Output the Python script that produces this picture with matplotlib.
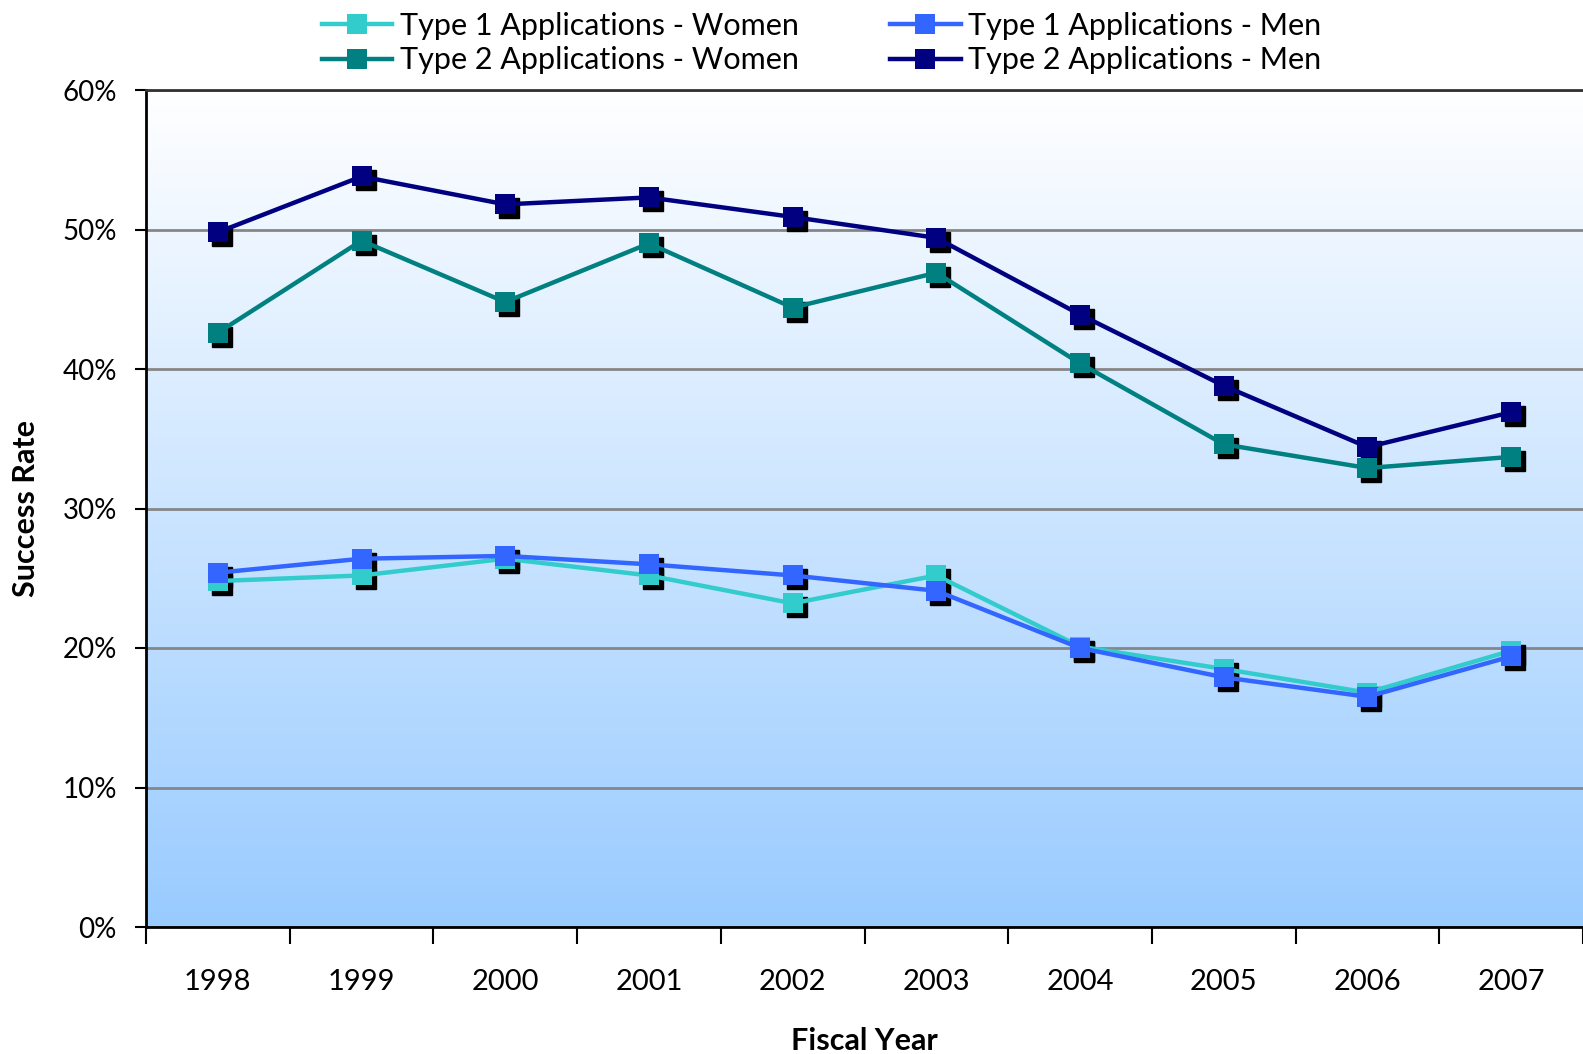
import numpy as np
import matplotlib
matplotlib.use("Agg")
import matplotlib.pyplot as plt
from matplotlib import transforms
from matplotlib.colors import LinearSegmentedColormap
from matplotlib.ticker import FixedLocator, FuncFormatter

plt.rcParams["font.family"] = ["Lato", "DejaVu Sans"]

# data (success rate, %)
years = ["1998", "1999", "2000", "2001", "2002", "2003", "2004", "2005", "2006", "2007"]
type1_women = [24.8, 25.2, 26.4, 25.2, 23.2, 25.2, 20.1, 18.5, 16.8, 19.8]
type1_men = [25.4, 26.4, 26.6, 26.0, 25.2, 24.1, 20.0, 17.9, 16.5, 19.4]
type2_women = [42.6, 49.2, 44.8, 49.0, 44.4, 46.9, 40.4, 34.6, 32.9, 33.7]
type2_men = [49.8, 53.8, 51.8, 52.3, 50.9, 49.4, 43.9, 38.8, 34.4, 36.9]

series = [
    ("Type 1 Applications - Women", type1_women, "#33CCCC"),
    ("Type 1 Applications - Men", type1_men, "#3366FF"),
    ("Type 2 Applications - Men", type2_men, "#000080"),
    ("Type 2 Applications - Women", type2_women, "#008080"),
]

fig = plt.figure(figsize=(15.83, 10.54), dpi=100)
ax = fig.add_axes([146 / 1583, 1 - 927 / 1054, 1 - 146 / 1583, (927 - 90) / 1054])

# gradient background
cmap = LinearSegmentedColormap.from_list("bg", ["#FFFFFF", "#99CBFF"])
grad = np.linspace(0, 1, 256).reshape(-1, 1)
ax.imshow(grad, cmap=cmap, extent=[0, 1, 0, 1], transform=ax.transAxes,
          aspect="auto", zorder=0)

x = np.arange(len(years))
shadow = transforms.offset_copy(ax.transData, fig=fig, x=4, y=-4, units="dots")

handles = {}
for label, vals, color in series:
    ax.plot(x, vals, linestyle="none", marker="s", markersize=15,
            color="black", transform=shadow, zorder=3)
    h, = ax.plot(x, vals, color=color, linewidth=3.2, marker="s",
                 markersize=15, markeredgewidth=0, zorder=4, label=label)
    handles[label] = h

order = ["Type 1 Applications - Women", "Type 2 Applications - Women",
         "Type 1 Applications - Men", "Type 2 Applications - Men"]
fig.legend([handles[k] for k in order], order, ncol=2, loc="upper center",
           bbox_to_anchor=(0.519, 1.015), frameon=False, fontsize=22,
           handlelength=2.3, handletextpad=0.25, columnspacing=3.0,
           labelspacing=0.22)

ax.set_xlim(-0.5, 9.5)
ax.set_ylim(0, 60)
ax.set_yticks(np.arange(0, 61, 10))
ax.yaxis.set_major_formatter(FuncFormatter(lambda v, p: f"{v:.0f}%"))
ax.grid(axis="y", color="#868686", linewidth=2, zorder=1)
ax.set_axisbelow(True)

ax.xaxis.set_major_locator(FixedLocator(np.arange(-0.5, 10, 1)))
ax.xaxis.set_major_formatter(FuncFormatter(lambda v, p: ""))
ax.xaxis.set_minor_locator(FixedLocator(x))
ax.set_xticklabels(years, minor=True)
ax.tick_params(axis="x", which="major", length=12, width=1.5, direction="out")
ax.tick_params(axis="x", which="minor", length=0, pad=30, labelsize=21)
ax.tick_params(axis="y", length=8, width=1.5, direction="out", labelsize=20, pad=13)

for s in ["left", "bottom"]:
    ax.spines[s].set_linewidth(2)
    ax.spines[s].set_color("black")
ax.spines["top"].set_linewidth(2)
ax.spines["top"].set_color("#333333")
ax.spines["right"].set_visible(False)

ax.set_xlabel("Fiscal Year", fontsize=22, fontweight="bold", labelpad=23)
ax.set_ylabel("Success Rate", fontsize=22, fontweight="bold", labelpad=16)

fig.savefig("out.png", dpi=100)
